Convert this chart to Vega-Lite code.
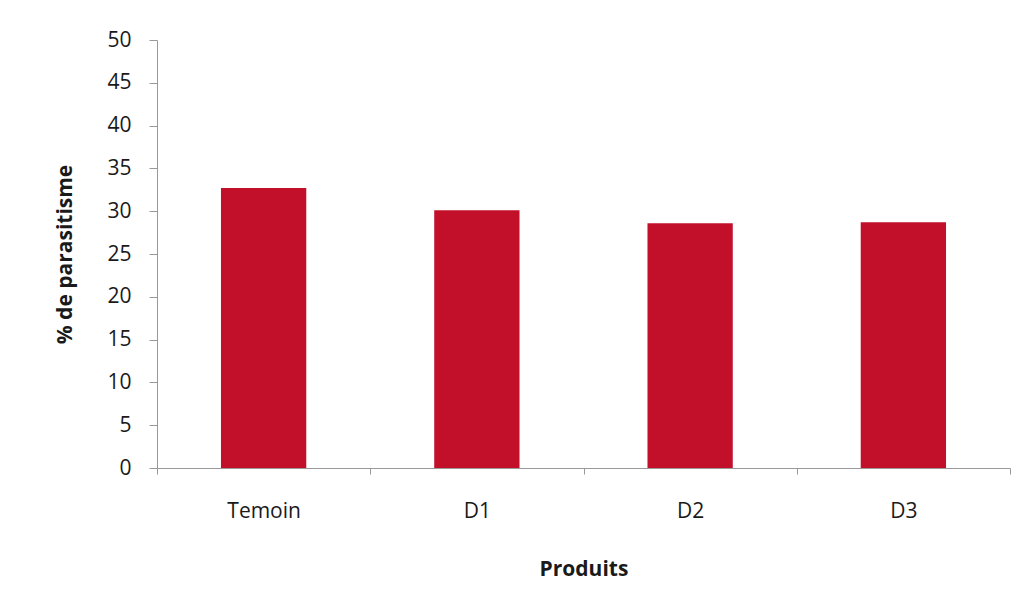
{
  "$schema": "https://vega.github.io/schema/vega-lite/v6.json",
  "width": 853,
  "height": 428,
  "autosize": {"type": "none"},
  "padding": {"left": 157, "top": 40, "right": 22, "bottom": 147},
  "background": "white",
  "config": {
    "view": {"stroke": null},
    "font": "Open Sans"
  },
  "data": {
    "values": [
      {"produit": "Temoin", "parasitisme": 32.7},
      {"produit": "D1", "parasitisme": 30.1},
      {"produit": "D2", "parasitisme": 28.6},
      {"produit": "D3", "parasitisme": 28.7}
    ]
  },
  "mark": {"type": "bar", "color": "#C3102A", "width": {"band": 0.4}},
  "encoding": {
    "x": {
      "field": "produit",
      "type": "nominal",
      "sort": null,
      "scale": {"paddingInner": 0, "paddingOuter": 0},
      "axis": {
        "title": "Produits",
        "labelAngle": 0,
        "labelFont": "Open Sans",
        "labelFontSize": 21,
        "labelColor": "#1a1a1a",
        "labelPadding": 26,
        "tickBand": "extent",
        "tickSize": 6,
        "tickColor": "#999999",
        "domainColor": "#999999",
        "titleFont": "Open Sans",
        "titleFontSize": 21,
        "titleFontWeight": "bold",
        "titleColor": "#1a1a1a",
        "titleBaseline": "middle",
        "titleY": 101
      }
    },
    "y": {
      "field": "parasitisme",
      "type": "quantitative",
      "scale": {"domain": [0, 50]},
      "axis": {
        "title": "% de parasitisme",
        "values": [0, 5, 10, 15, 20, 25, 30, 35, 40, 45, 50],
        "grid": false,
        "labelFont": "Open Sans",
        "labelFontSize": 21,
        "labelColor": "#1a1a1a",
        "labelPadding": 18,
        "tickSize": 8,
        "tickColor": "#999999",
        "domainColor": "#999999",
        "titleFont": "Open Sans",
        "titleFontSize": 21,
        "titleFontWeight": "bold",
        "titleColor": "#1a1a1a",
        "titleBaseline": "middle",
        "titleX": -92
      }
    }
  }
}
